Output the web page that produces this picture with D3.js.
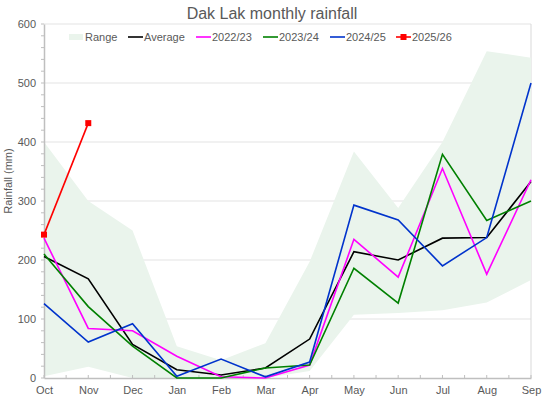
<!DOCTYPE html>
<meta charset="utf-8">
<style>
body { margin: 0; background: #fff; }
svg { font-family: "Liberation Sans", Arial, sans-serif; }
.tick text { fill: #595959; font-size: 11px; }
</style>
<body>
<div id="chart"></div>
<script src="https://cdn.jsdelivr.net/npm/d3@7"></script>
<script>
var months = ["Oct", "Nov", "Dec", "Jan", "Feb", "Mar", "Apr", "May", "Jun", "Jul", "Aug", "Sep"];
var yTicks = [0, 100, 200, 300, 400, 500, 600];

var rangeLow = [3, 19, 0, 0, 0, 0, 12, 107, 110, 115, 128, 166];
var rangeHigh = [400, 300, 250, 54, 30, 59, 197, 384, 288, 400, 554, 543];
var average = [206, 168, 57, 14, 5, 17, 66, 214, 200, 237, 238, 333];
var y2022 = [237, 84, 80, 37, 2, 0, 22, 235, 171, 355, 176, 336];
var y2023 = [210, 121, 54, 0, 0, 17, 22, 186, 127, 379, 267, 300];
var y2024 = [126, 61, 92, 3, 32, 2, 27, 293, 268, 190, 238, 500];
var y2025 = [243, 432];

var series = [
  { name: "Average", values: average, color: "#000000" },
  { name: "2022/23", values: y2022, color: "#ff00ff" },
  { name: "2023/24", values: y2023, color: "#008000" },
  { name: "2024/25", values: y2024, color: "#0033cc" },
  { name: "2025/26", values: y2025, color: "#ff0000", marker: true }
];

var width = 544, height = 399;
var margin = { top: 24, right: 13, bottom: 21, left: 44 };

var svg = d3.select("#chart").append("svg")
  .attr("width", width)
  .attr("height", height);

var x = d3.scalePoint().domain(months).range([margin.left, width - margin.right]);
var y = d3.scaleLinear().domain([0, 600]).range([height - margin.bottom, margin.top]);

// title
svg.append("text")
  .attr("x", 272).attr("y", 19)
  .attr("text-anchor", "middle")
  .style("font-size", "16px")
  .style("fill", "#595959")
  .text("Dak Lak monthly rainfall");

// gridlines
svg.append("g").selectAll("line")
  .data(yTicks.slice(1))
  .enter().append("line")
  .attr("x1", margin.left).attr("x2", width - margin.right)
  .attr("y1", function(d) { return y(d); })
  .attr("y2", function(d) { return y(d); })
  .attr("stroke", "#e3e3e3");

// right border
svg.append("line")
  .attr("x1", width - margin.right).attr("x2", width - margin.right)
  .attr("y1", margin.top).attr("y2", height - margin.bottom)
  .attr("stroke", "#d9d9d9");

// range band
var area = d3.area()
  .x(function(d, i) { return x(months[i]); })
  .y0(function(d, i) { return y(rangeLow[i]); })
  .y1(function(d) { return y(d); });

svg.append("path")
  .datum(rangeHigh)
  .attr("d", area)
  .attr("fill", "#eaf4ec");

// axes
var xAxis = svg.append("g")
  .attr("transform", "translate(0," + y(0) + ")")
  .call(d3.axisBottom(x).tickSize(0).tickPadding(8));
xAxis.select(".domain").attr("stroke", "#bfbfbf").attr("stroke-width", 1.5);

var yAxis = svg.append("g")
  .attr("transform", "translate(" + margin.left + ",0)")
  .call(d3.axisLeft(y).tickValues(yTicks).tickSize(0).tickPadding(8));
yAxis.select(".domain").attr("stroke", "#bfbfbf").attr("stroke-width", 1.5);

// minor ticks
svg.append("g").selectAll("line")
  .data(d3.range(0, 601, 20))
  .enter().append("line")
  .attr("x1", margin.left - 3).attr("x2", margin.left)
  .attr("y1", function(d) { return y(d); })
  .attr("y2", function(d) { return y(d); })
  .attr("stroke", "#bfbfbf");

var step = x.step();
svg.append("g").selectAll("line")
  .data(d3.range(0, months.length * 2 - 1))
  .enter().append("line")
  .attr("x1", function(d) { return margin.left + d * step / 2; })
  .attr("x2", function(d) { return margin.left + d * step / 2; })
  .attr("y1", y(0)).attr("y2", y(0) - 3)
  .attr("stroke", "#bfbfbf");

svg.append("text")
  .attr("transform", "translate(12,181) rotate(-90)")
  .attr("text-anchor", "middle")
  .style("font-size", "11px")
  .style("fill", "#595959")
  .text("Rainfall (mm)");

// lines
var line = d3.line()
  .x(function(d, i) { return x(months[i]); })
  .y(function(d) { return y(d); });

series.forEach(function(s) {
  svg.append("path")
    .datum(s.values)
    .attr("d", line)
    .attr("fill", "none")
    .attr("stroke", s.color)
    .attr("stroke-width", 1.6);
  if (s.marker) {
    svg.append("g").selectAll("rect")
      .data(s.values)
      .enter().append("rect")
      .attr("x", function(d, i) { return x(months[i]) - 3; })
      .attr("y", function(d) { return y(d) - 3; })
      .attr("width", 6).attr("height", 6)
      .attr("fill", s.color);
  }
});

// legend
var leg = svg.append("g").style("font-size", "11px");
leg.append("rect").attr("x", 69).attr("y", 34).attr("width", 14).attr("height", 6).attr("fill", "#eaf4ec");
leg.append("text").attr("x", 85).attr("y", 41).style("fill", "#595959").text("Range");

var legX = [128, 196, 263, 330, 396];
series.forEach(function(s, i) {
  leg.append("line")
    .attr("x1", legX[i]).attr("x2", legX[i] + 15)
    .attr("y1", 37).attr("y2", 37)
    .attr("stroke", s.color).attr("stroke-width", 1.6);
  if (s.marker) {
    leg.append("rect").attr("x", legX[i] + 4.5).attr("y", 34).attr("width", 6).attr("height", 6).attr("fill", s.color);
  }
  leg.append("text").attr("x", legX[i] + 16).attr("y", 41).style("fill", "#595959").text(s.name);
});
</script>
</body>
